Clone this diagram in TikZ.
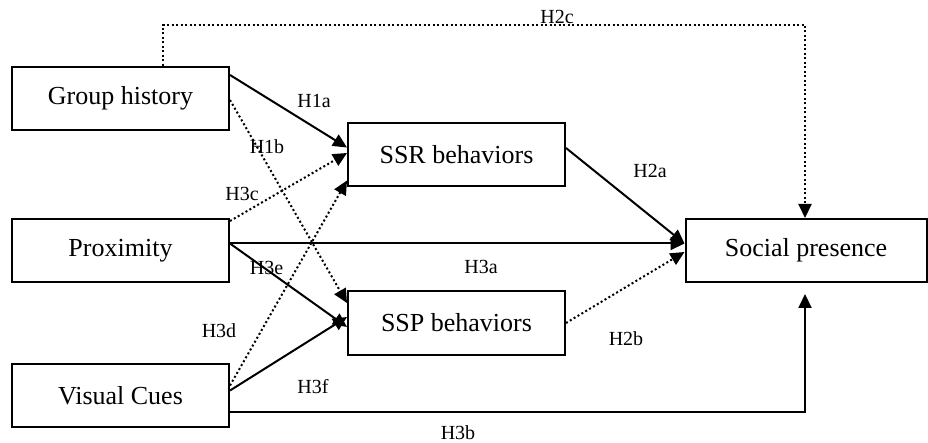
\documentclass[tikz,border=0pt]{standalone}
\usepackage{fontspec}
\setmainfont{Liberation Serif}
\usepackage{tikz}
\usetikzlibrary{arrows.meta}

\begin{document}
\begin{tikzpicture}[x=1pt,y=-1pt,
  construct/.style={draw,line width=2pt,minimum width=217pt,minimum height=63pt,inner sep=0pt,font=\fontsize{26}{30}\selectfont},
  hyp/.style={line width=2pt,-{Triangle[length=14pt,width=13pt]}},
  hypdot/.style={hyp,dash pattern=on 2pt off 2.5pt},
  hlabel/.style={inner sep=0pt,font=\fontsize{20}{22}\selectfont}]
\useasboundingbox (0,0) rectangle (928,443);

\node[construct] (GroupHistory) at (120.5,98.5) {Group history};
\node[construct] (Proximity) at (120.5,250.5) {Proximity};
\node[construct] (VisualCues) at (120.5,395.5) {Visual Cues};

\node[construct] (SSR) at (456.5,154.5) {SSR behaviors};
\node[construct] (SSP) at (456.5,323) {SSP behaviors};

\node[construct,minimum width=241pt] (SocialPresence) at (806,250.5) {Social presence};

\draw[hyp] ([yshift=-9pt]GroupHistory.north east) -- ([yshift=7pt]SSR.west);
\draw[hypdot] ([yshift=-1.5pt]GroupHistory.east) -- ([yshift=20pt]SSP.west);
\draw[hypdot] ([yshift=-3pt]Proximity.north east) -- ([yshift=1.5pt]SSR.west);
\draw[hypdot] ([yshift=10pt]VisualCues.east) -- ([yshift=-26pt]SSR.west);
\draw[hyp] ([yshift=7pt]Proximity.east) -- ([yshift=-4pt]SSP.west);
\draw[hyp] ([yshift=5pt]VisualCues.east) -- ([yshift=6pt]SSP.west);
\draw[hyp] ([yshift=7pt]Proximity.east) -- ([yshift=7pt]SocialPresence.west);
\draw[hyp] ([yshift=6.5pt]SSR.east) -- ([yshift=7pt]SocialPresence.west);
\draw[hypdot] (SSP.east) -- ([yshift=-1.5pt]SocialPresence.west);
\draw[hypdot] ([xshift=42.5pt]GroupHistory.north) -- ++(0,-41) -| ([xshift=-1pt]SocialPresence.north);
\draw[hyp] ([yshift=-16pt]VisualCues.east) -| ([xshift=-1pt,yshift=-11pt]SocialPresence.south);

\node[hlabel] (H1a) at (314,100.5) {H1a};
\node[hlabel] (H1b) at (267,146.5) {H1b};
\node[hlabel] (H3c) at (242,193.5) {H3c};
\node[hlabel] (H3e) at (266.5,267.5) {H3e};
\node[hlabel] (H3d) at (219,330.5) {H3d};
\node[hlabel] (H3f) at (313,386.5) {H3f};
\node[hlabel] (H3a) at (481,266.5) {H3a};
\node[hlabel] (H2a) at (650,170.5) {H2a};
\node[hlabel] (H2b) at (626,338.5) {H2b};
\node[hlabel] (H2c) at (557,16.5) {H2c};
\node[hlabel] (H3b) at (458,433) {H3b};
\end{tikzpicture}
\end{document}
